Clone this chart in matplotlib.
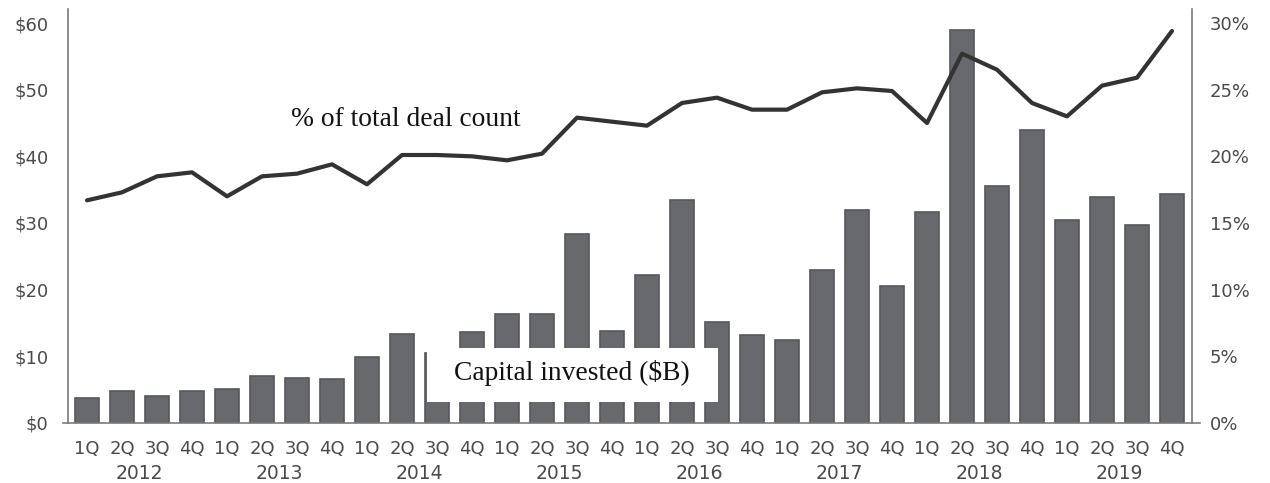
import matplotlib
matplotlib.use("Agg")
import matplotlib.pyplot as plt
from matplotlib.patches import Rectangle
import numpy as np

quarters = ["1Q", "2Q", "3Q", "4Q"] * 8
years = ["2012", "2013", "2014", "2015", "2016", "2017", "2018", "2019"]

# Capital invested, $B per quarter
capital = [3.8, 4.8, 4.1, 4.8, 5.1, 7.1, 6.7, 6.6,
           9.9, 13.4, 10.5, 13.6, 16.3, 16.3, 28.3, 13.8,
           22.2, 33.4, 15.2, 13.2, 12.4, 23.0, 31.9, 20.6,
           31.7, 59.0, 35.5, 44.0, 30.4, 33.9, 29.7, 34.3]

# Share of total deal count, %
deal_share = [16.7, 17.3, 18.5, 18.8, 17.0, 18.5, 18.7, 19.4,
              17.9, 20.1, 20.1, 20.0, 19.7, 20.2, 22.9, 22.6,
              22.3, 24.0, 24.4, 23.5, 23.5, 24.8, 25.1, 24.9,
              22.5, 27.7, 26.5, 24.0, 23.0, 25.3, 25.9, 29.4]

left_ticks = [0, 10, 20, 30, 40, 50, 60]
left_labels = ["$0", "$10", "$20", "$30", "$40", "$50", "$60"]
right_ticks = [0, 5, 10, 15, 20, 25, 30]
right_labels = ["0%", "5%", "10%", "15%", "20%", "25%", "30%"]

W, H = 1270, 483
fig = plt.figure(figsize=(W / 100, H / 100), dpi=100)
ax = fig.add_axes([63 / W, (H - 423) / H, (1200 - 63) / W, (423 - 9) / H])

tick_color = "#4a4a4a"
spine_color = "#7a7a7a"
x = np.arange(len(capital))

ax.bar(x, capital, width=0.66, color="#68696d", edgecolor="#57585c", linewidth=1.2, zorder=2)
ax.set_xlim(-0.686, 31.8)
ax.set_ylim(0, 62.1)

ax2 = ax.twinx()
ax2.set_ylim(0, 31.05)
ax2.plot(x, deal_share, color="#333333", linewidth=3.0, solid_capstyle="round",
         solid_joinstyle="round", zorder=3)

for a in (ax, ax2):
    a.spines["top"].set_visible(False)
    for s in ("left", "right", "bottom"):
        a.spines[s].set_color(spine_color)
        a.spines[s].set_linewidth(1.2)
ax.spines["right"].set_visible(False)
ax2.spines["left"].set_visible(False)
ax2.spines["bottom"].set_visible(False)
ax.spines["left"].set_position(("data", -0.543))
ax2.spines["right"].set_position(("data", 31.57))

ax.set_yticks(left_ticks)
ax.set_yticklabels(left_labels)
ax.tick_params(axis="y", length=0, pad=14, labelsize=13, labelcolor=tick_color)
ax2.set_yticks(right_ticks)
ax2.set_yticklabels(right_labels)
ax2.tick_params(axis="y", length=0, pad=13, labelsize=13, labelcolor=tick_color)

ax.set_xticks(x)
ax.set_xticklabels(quarters)
ax.tick_params(axis="x", length=0, pad=12, labelsize=13, labelcolor=tick_color)

for i, yr in enumerate(years):
    ax.text(4 * i + 1.5, -0.121, yr, transform=ax.get_xaxis_transform(),
            ha="center", va="center", fontsize=13.5, color=tick_color)

# White label panel over the bars
ax2.add_patch(Rectangle((9.7, 3.15 / 2), 18.03 - 9.7, (11.25 - 3.15) / 2,
                        facecolor="white", edgecolor="none", zorder=4))
ax2.text(13.86, 7.5 / 2, "Capital invested ($B)", ha="center", va="center",
         fontsize=19.8, family="Liberation Serif", color="#111111", zorder=5)
ax2.text(9.11, (423 - 120) / 13.333, "% of total deal count", ha="center", va="center",
         fontsize=19.8, family="Liberation Serif", color="#111111", zorder=5)

ax.set_zorder(1)
ax2.set_zorder(2)
ax2.patch.set_visible(False)

fig.savefig("out.png", dpi=100)
